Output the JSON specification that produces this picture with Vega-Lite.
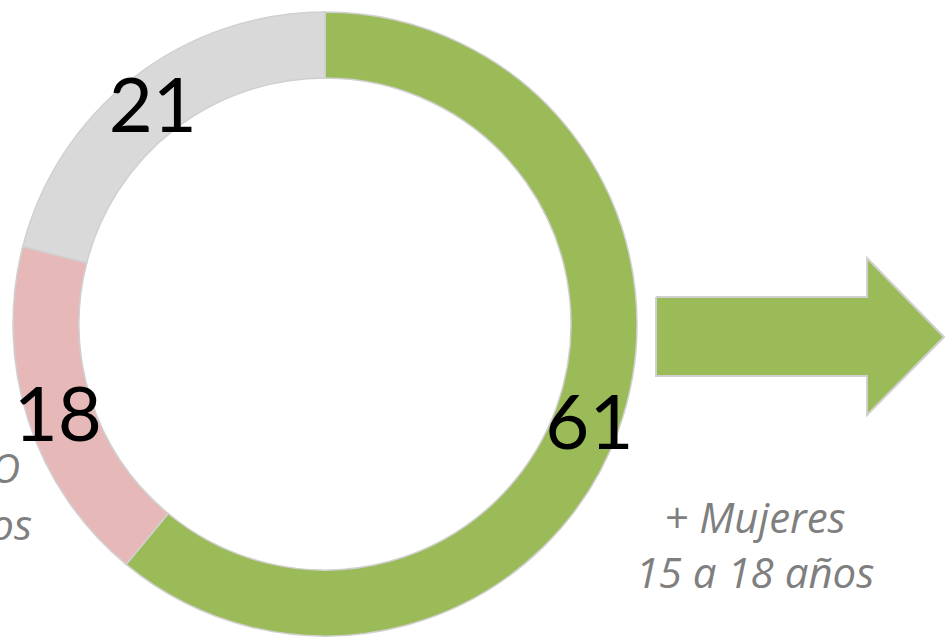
{
  "$schema": "https://vega.github.io/schema/vega-lite/v6.json",
  "width": 945,
  "height": 638,
  "autosize": {"type": "none"},
  "padding": 0,
  "background": "white",
  "config": {"view": {"stroke": null}},
  "datasets": {
    "segmentos": [
      {"segmento": "Verde", "valor": 61, "orden": 1},
      {"segmento": "Rosa", "valor": 18, "orden": 2},
      {"segmento": "Gris", "valor": 21, "orden": 3}
    ],
    "flecha": [
      {"px": 656, "py": 297, "n": 1},
      {"px": 867, "py": 297, "n": 2},
      {"px": 867, "py": 258, "n": 3},
      {"px": 944, "py": 337, "n": 4},
      {"px": 867, "py": 415, "n": 5},
      {"px": 867, "py": 376, "n": 6},
      {"px": 656, "py": 376, "n": 7},
      {"px": 656, "py": 297, "n": 8}
    ]
  },
  "layer": [
    {
      "data": {"name": "segmentos"},
      "mark": {"type": "arc", "outerRadius": 312, "innerRadius": 246, "stroke": "#D0D0D0", "strokeWidth": 1.5},
      "encoding": {
        "theta": {"field": "valor", "type": "quantitative", "stack": true},
        "order": {"field": "orden", "type": "quantitative"},
        "color": {"field": "segmento", "type": "nominal", "scale": {"domain": ["Verde", "Rosa", "Gris"], "range": ["#9BBB59", "#E6B9B8", "#D9D9D9"]}, "legend": null},
        "x": {"datum": 325, "type": "quantitative", "scale": {"domain": [0, 945], "nice": false, "zero": false}, "axis": null},
        "y": {"datum": 324, "type": "quantitative", "scale": {"domain": [0, 638], "reverse": true, "nice": false, "zero": false}, "axis": null}
      }
    },
    {
      "data": {"name": "segmentos"},
      "mark": {"type": "text", "radius": 281, "font": "Lato", "fontSize": 76, "color": "#000000", "align": "center", "baseline": "middle", "dy": 7},
      "encoding": {
        "theta": {"field": "valor", "type": "quantitative", "stack": true},
        "order": {"field": "orden", "type": "quantitative"},
        "text": {"field": "valor", "type": "quantitative"},
        "x": {"datum": 325, "type": "quantitative"},
        "y": {"datum": 324, "type": "quantitative"}
      }
    },
    {
      "data": {"name": "flecha"},
      "mark": {"type": "line", "fill": "#9BBB59", "stroke": "#D0D0D0", "strokeWidth": 2, "interpolate": "linear"},
      "encoding": {
        "x": {"field": "px", "type": "quantitative"},
        "y": {"field": "py", "type": "quantitative"},
        "order": {"field": "n", "type": "quantitative"}
      }
    },
    {
      "data": {"values": [{}]},
      "mark": {"type": "text", "text": ["+ Mujeres", "15 a 18 años"], "font": "Open Sans", "fontSize": 42, "fontStyle": "italic", "color": "#7F7F7F", "align": "center", "baseline": "alphabetic", "lineHeight": 55},
      "encoding": {
        "x": {"datum": 755, "type": "quantitative"},
        "y": {"datum": 533, "type": "quantitative"}
      }
    },
    {
      "data": {"values": [{}]},
      "mark": {"type": "text", "text": "O", "font": "Open Sans", "fontSize": 40, "fontStyle": "italic", "color": "#7F7F7F", "align": "right", "baseline": "alphabetic"},
      "encoding": {
        "x": {"datum": 20, "type": "quantitative"},
        "y": {"datum": 483, "type": "quantitative"}
      }
    },
    {
      "data": {"values": [{}]},
      "mark": {"type": "text", "text": "os", "font": "Open Sans", "fontSize": 42, "fontStyle": "italic", "color": "#7F7F7F", "align": "right", "baseline": "alphabetic"},
      "encoding": {
        "x": {"datum": 32, "type": "quantitative"},
        "y": {"datum": 540, "type": "quantitative"}
      }
    }
  ]
}
